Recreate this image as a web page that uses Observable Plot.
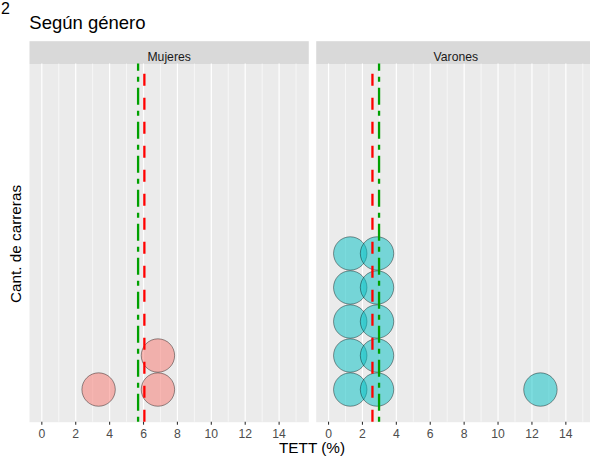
<!DOCTYPE html>
<html><head><meta charset="utf-8">
<script src="https://cdn.jsdelivr.net/npm/d3@7"></script>
<script src="https://cdn.jsdelivr.net/npm/@observablehq/plot@0.6"></script>
<style>
html,body{margin:0;padding:0;background:#fff;overflow:hidden;width:590px;height:457px;}
#chart{position:relative;width:590px;height:457px;overflow:hidden;}
#chart svg{max-width:none !important;}
</style></head><body>
<div id="chart"></div>
<script>
const facets = ["Mujeres", "Varones"];
const mujeres = [3.35, 6.85, 6.85];
const varones = [1.28, 1.28, 1.28, 1.28, 1.28, 2.86, 2.86, 2.86, 2.86, 2.86, 12.5];
const media = [5.68, 2.98];    // green dot-dash
const mediana = [6.05, 2.59];  // red dashed
const majorTicks = [0, 2, 4, 6, 8, 10, 12, 14];
const minorTicks = [1, 3, 5, 7, 9, 11, 13, 15];
const colors = ["#F8766D", "#00BFC4"];

function stack(vals, g) {
  const c = new Map();
  return vals.map(v => { const k = c.get(v) || 0; c.set(v, k + 1); return {g, x: v, y: k + 0.5}; });
}
const dots = [...stack(mujeres, "Mujeres"), ...stack(varones, "Varones")];
const lines = facets.map((g, i) => ({g, media: media[i], mediana: mediana[i]}));
const Y0 = -0.46, Y1 = 10.07;
const FONT = '"Liberation Sans", Arial, Helvetica, sans-serif';

const plot = Plot.plot({
  width: 596, height: 457,
  marginLeft: 29, marginRight: 1, marginTop: 63.5, marginBottom: 35.3,
  style: {fontFamily: FONT, background: "transparent", overflow: "visible", maxWidth: "none"},
  fx: {domain: facets, paddingInner: 0.026, paddingOuter: 0, round: false, axis: null},
  x: {domain: [-0.727, 15.75], axis: null},
  y: {domain: [Y0, Y1], axis: null},
  color: {domain: facets, range: colors},
  marks: [
    Plot.frame({fill: "#EBEBEB"}),
    Plot.frame({fill: "#D9D9D9", insetTop: -22.8, insetBottom: 358.2}),
    Plot.gridX(minorTicks, {stroke: "white", strokeOpacity: 1, strokeWidth: 0.6}),
    Plot.gridX(majorTicks, {stroke: "white", strokeOpacity: 1, strokeWidth: 1.2}),
    Plot.axisX(majorTicks, {tickSize: 3, tickPadding: 4.3, fontSize: 12.2, stroke: "#333333", fill: "#4D4D4D", strokeWidth: 1.1, label: null}),
    Plot.text(facets, {fx: d => d, text: d => d, frameAnchor: "top", dy: -11.5, fontSize: 12.2, fill: "#1A1A1A"}),
    Plot.dot(dots, {fx: "g", x: "x", y: "y", r: 16.7, fill: "g", fillOpacity: 0.5, stroke: "black", strokeOpacity: 0.5, strokeWidth: 0.8}),
    Plot.ruleX(lines, {fx: "g", x: "mediana", y1: () => Y0, y2: () => Y1, stroke: "#FF0000", strokeWidth: 2.3, strokeDasharray: "12,12"}),
    Plot.ruleX(lines, {fx: "g", x: "media", y1: () => Y0, y2: () => Y1, stroke: "#00A000", strokeWidth: 2.3, strokeDasharray: "5,6,17,6"})
  ]
});

const svg = d3.select(plot);
function addText(t, x, y, size, opts = {}) {
  const el = svg.append("text").text(t).attr("x", x).attr("y", y)
    .attr("font-size", size).attr("font-family", FONT).attr("fill", opts.fill || "#000")
    .attr("text-anchor", opts.anchor || "start");
  if (opts.rotate) el.attr("transform", `rotate(-90 ${x} ${y})`);
  return el;
}
addText("2", 1, 14, 16);
addText("Según género", 29.3, 28.5, 18.5);
addText("TETT (%)", 312, 453, 15.3, {anchor: "middle"});
addText("Cant. de carreras", 21, 244, 15.3, {anchor: "middle", rotate: true});

document.getElementById("chart").appendChild(plot);
</script>
</body></html>
